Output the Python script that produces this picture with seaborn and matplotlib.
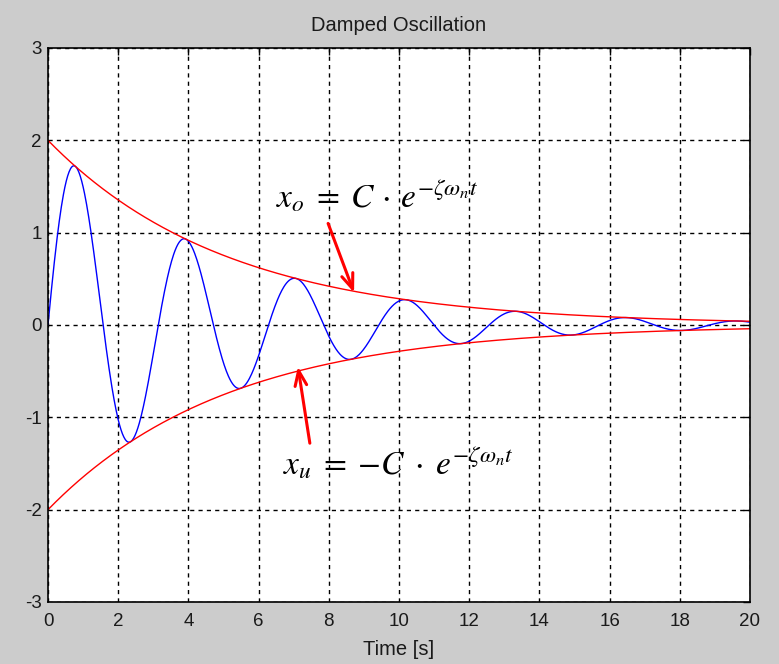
import numpy as np
import pandas as pd
import seaborn as sns
import matplotlib
matplotlib.use("Agg")
import matplotlib.pyplot as plt

# Parameters
C_amp = 2.0          # initial envelope amplitude
decay = 0.195        # zeta * omega_n  [1/s]
omega_d = 2.0        # damped angular frequency [rad/s]
t_end = 20.0

x_ticks = [0, 2, 4, 6, 8, 10, 12, 14, 16, 18, 20]
y_ticks = [-3, -2, -1, 0, 1, 2, 3]

t = np.linspace(0, t_end, 1001)
env = C_amp * np.exp(-decay * t)
df = pd.DataFrame({
    "t": t,
    "x": env * np.sin(omega_d * t),
    "upper": env,
    "lower": -env,
})

sns.set_theme(style="white")
plt.rcParams["font.family"] = ["Liberation Sans", "DejaVu Sans"]
plt.rcParams["mathtext.fontset"] = "stix"

fig = plt.figure(figsize=(7.79, 6.64), dpi=100, facecolor="#cccccc")
ax = fig.add_axes([48/779, 1-602/664, (750-48)/779, (602-48)/664])
ax.set_facecolor("white")

sns.lineplot(data=df, x="t", y="x", ax=ax, color="blue", lw=1.0)
sns.lineplot(data=df, x="t", y="upper", ax=ax, color="red", lw=1.0)
sns.lineplot(data=df, x="t", y="lower", ax=ax, color="red", lw=1.0)

ax.set_xlim(0, 20)
ax.set_ylim(-3, 3)
ax.set_xticks(x_ticks)
ax.set_yticks(y_ticks)
ax.set_xticklabels([str(v) for v in x_ticks])
ax.set_yticklabels([str(v) for v in y_ticks])
ax.grid(True, color="black", linestyle=(0, (3, 3)), linewidth=1.0)
ax.tick_params(direction="in", length=5, width=1, color="black",
               labelsize=13.5, labelcolor="#1a1a1a", top=True, right=True)
ax.tick_params(axis="x", pad=8)
ax.tick_params(axis="y", pad=4.5)
for s in ax.spines.values():
    s.set_color("black")
    s.set_linewidth(1.2)
ax.set_xlabel("Time [s]", fontsize=14.5, color="#1a1a1a", labelpad=7)
ax.set_ylabel("")
ax.set_title("Damped Oscillation", fontsize=14.5, color="#1a1a1a", pad=12)

ax.text(6.5, 1.39, r"$x_o\;=\;C\,\cdot\,e^{-\zeta\omega_n t}$", fontsize=24,
        ha="left", va="center", color="black")
ax.text(6.7, -1.5, r"$x_u\;=\;{-}C\;\cdot\;e^{-\zeta\omega_n t}$", fontsize=24,
        ha="left", va="center", color="black")

ax.annotate("", xy=(8.72, 0.35), xytext=(7.98, 1.10),
            arrowprops=dict(arrowstyle="->,head_length=0.9,head_width=0.35",
                            color="red", lw=2.2, shrinkA=0, shrinkB=0))
ax.annotate("", xy=(7.12, -0.45), xytext=(7.46, -1.28),
            arrowprops=dict(arrowstyle="->,head_length=0.9,head_width=0.35",
                            color="red", lw=2.2, shrinkA=0, shrinkB=0))

fig.savefig("out.png", dpi=100, facecolor=fig.get_facecolor())
